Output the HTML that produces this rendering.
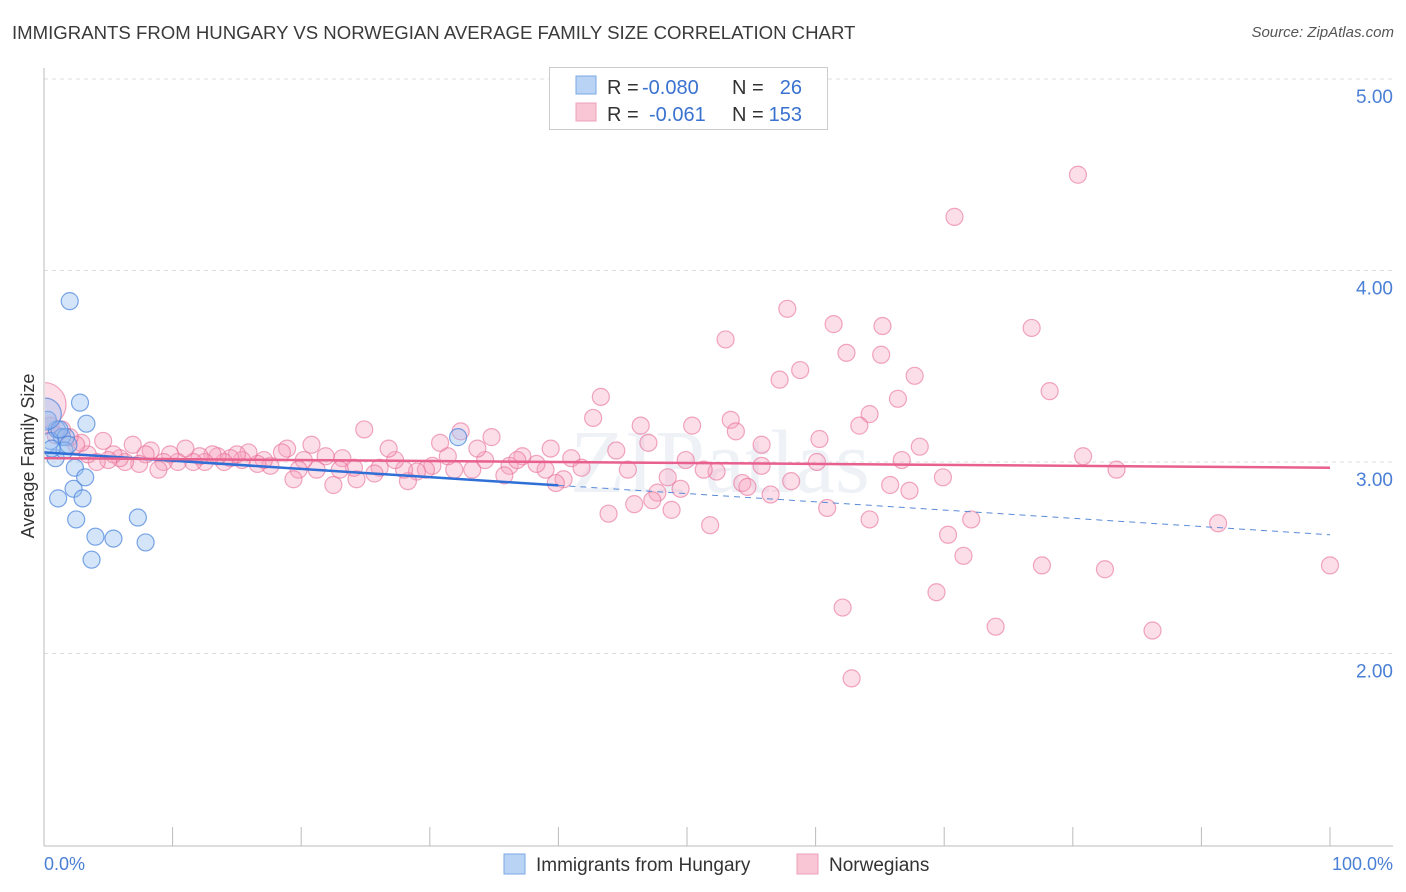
<!DOCTYPE html>
<html><head><meta charset="utf-8"><style>
body{margin:0;background:#fff;font-family:"Liberation Sans",sans-serif;}
#wrap{position:relative;width:1406px;height:892px;overflow:hidden;}
.t{position:absolute;white-space:nowrap;}
</style></head><body>
<div id="wrap">
<div class="t" style="left:12px;top:22px;font-size:18.6px;color:#3a3a3a;">IMMIGRANTS FROM HUNGARY VS NORWEGIAN AVERAGE FAMILY SIZE CORRELATION CHART</div>
<div class="t" style="right:12px;top:24px;font-size:15px;color:#555;font-style:italic;">Source: ZipAtlas.com</div>
<svg id="svg" width="1406" height="892" style="position:absolute;left:0;top:0;"><defs><clipPath id="pc"><rect x="45" y="60" width="1360" height="786"/></clipPath></defs></svg>
</div>
<script>
const yTicks=[2,3,4,5];
const yTickLabels=["2.00","3.00","4.00","5.00"];
const xTickLabels=["0.0%","100.0%"];
const blueX=[2.0,2.8,3.3,1.0,1.4,1.7,0.9,1.6,2.4,2.3,3.2,1.1,3.0,2.5,4.0,5.4,7.3,7.9,3.7,32.2,0.3,0.5,1.2,1.9,0.6,0.1];
const blueY=[3.84,3.31,3.20,3.17,3.13,3.13,3.02,3.06,2.97,2.86,2.92,2.81,2.81,2.70,2.61,2.60,2.71,2.58,2.49,3.13,3.22,3.11,3.17,3.09,3.07,3.25];
const pinkX=[80.4,70.8,57.8,61.4,65.2,76.8,53.0,62.4,65.1,58.8,57.2,67.7,78.2,43.3,66.4,64.2,42.7,53.4,46.4,50.4,63.4,53.8,32.4,24.9,34.8,60.3,47.0,55.8,68.1,80.8,83.4,60.1,66.7,69.9,65.8,67.3,55.8,58.1,54.3,54.7,56.5,52.3,51.3,49.9,48.5,49.5,47.7,47.3,45.9,43.9,48.8,51.8,60.9,64.2,72.1,70.3,71.5,91.3,77.6,82.5,100,69.4,62.1,74.0,86.2,62.8,45.4,44.5,
39.4,41.0,41.8,40.4,39.8,39.0,38.3,37.2,36.2,36.8,35.8,34.3,33.7,33.3,31.9,31.4,30.8,30.2,29.7,29.0,28.3,28.0,27.3,26.8,26.1,25.7,24.3,24.1,23.2,23.0,22.5,21.9,21.2,20.8,20.2,19.8,19.4,18.9,18.5,17.6,17.1,16.6,15.9,15.4,15.0,14.5,14.0,13.5,13.1,12.5,12.1,11.6,11.0,10.4,9.8,9.3,8.9,8.3,7.9,7.4,6.9,6.3,5.9,5.4,5.0,4.6,4.1,3.4,2.9,2.5,2.0,1.4,0.9,0.5,0];
const pinkY=[4.50,4.28,3.80,3.72,3.71,3.70,3.64,3.57,3.56,3.48,3.43,3.45,3.37,3.34,3.33,3.25,3.23,3.22,3.19,3.19,3.19,3.16,3.16,3.17,3.13,3.12,3.10,3.09,3.08,3.03,2.96,3.00,3.01,2.92,2.88,2.85,2.98,2.90,2.89,2.87,2.83,2.95,2.96,3.01,2.92,2.86,2.84,2.80,2.78,2.73,2.75,2.67,2.76,2.70,2.70,2.62,2.51,2.68,2.46,2.44,2.46,2.32,2.24,2.14,2.12,1.87,2.96,3.06,
3.07,3.02,2.97,2.91,2.89,2.96,2.99,3.03,2.98,3.01,2.93,3.01,3.07,2.96,2.96,3.03,3.10,2.98,2.96,2.95,2.90,2.96,3.01,3.07,2.97,2.94,2.91,2.97,3.02,2.96,2.88,3.03,2.96,3.09,3.01,2.96,2.91,3.07,3.05,2.98,3.01,2.99,3.05,3.01,3.04,3.02,3.00,3.03,3.04,3.00,3.03,3.00,3.07,3.00,3.04,3.00,2.96,3.06,3.04,2.99,3.09,3.00,3.02,3.04,3.01,3.11,3.00,3.04,3.10,3.09,3.13,3.17,3.14,3.19,3.30];
const blueTrend=[3.05,2.62];   // values at 0% and 100%
const blueSolidEnd=40;
const pinkTrend=[3.02,2.97];

const svg=document.getElementById('svg');
const NS='http://www.w3.org/2000/svg';
const X0=44,X1=1330,Y3=462,PU=191.5;
const xs=v=>X0+(X1-X0)*v/100;
const ys=v=>Y3-(v-3)*PU;
function mk(tag,a,parent){const e=document.createElementNS(NS,tag);for(const k in a)e.setAttribute(k,a[k]);(parent||svg).appendChild(e);return e;}

yTicks.forEach((t,i)=>{
  const g=mk('line',{x1:X0,x2:1393,y1:ys(t),y2:ys(t),stroke:'#ddd','stroke-dasharray':'4,4'});
  
  
  const tx=mk('text',{x:1393,y:ys(t)+24,'text-anchor':'end','font-size':19,fill:'#4a7fd6','font-family':'Liberation Sans, sans-serif'});
  tx.textContent=yTickLabels[i];
  
  
});
const wm=mk('text',{x:720,y:492,'text-anchor':'middle','font-size':90,fill:'#eef2f7','font-family':'Liberation Serif, serif'});
wm.textContent='ZIPatlas';


const plot=mk('g',{'clip-path':'url(#pc)'});



pinkX.forEach((x,i)=>{
  const c=mk('circle',{cx:xs(x),cy:ys(pinkY[i]),r:x===0?22:8.5,fill:'rgba(246,160,190,0.35)',stroke:'rgba(232,110,150,0.6)','stroke-width':1.2},plot);
  
  
});
blueX.forEach((x,i)=>{
  const c=mk('circle',{cx:xs(x),cy:ys(blueY[i]),r:x<0.2?16:8.5,fill:'rgba(150,190,240,0.4)',stroke:'rgba(70,130,220,0.7)','stroke-width':1.2},plot);
  
  
});
const bAt=p=>blueTrend[0]+(blueTrend[1]-blueTrend[0])*p/100;
const bl=mk('line',{x1:xs(0),y1:ys(bAt(0)),x2:xs(blueSolidEnd),y2:ys(bAt(blueSolidEnd)),stroke:'#2f6fd6','stroke-width':2.5});


const bd=mk('line',{x1:xs(blueSolidEnd),y1:ys(bAt(blueSolidEnd)),x2:xs(100),y2:ys(bAt(100)),stroke:'#5a8ad8','stroke-width':1,'stroke-dasharray':'6,5'});


const pl=mk('line',{x1:xs(0),y1:ys(pinkTrend[0]),x2:xs(100),y2:ys(pinkTrend[1]),stroke:'#e8608e','stroke-width':2.5});



const ax=mk('line',{x1:X0,x2:X0,y1:68,y2:846,stroke:'#bbb'});


const bx=mk('line',{x1:X0,x2:1393,y1:846,y2:846,stroke:'#bbb'});


for(let i=0;i<=10;i++){
  const tk=mk('line',{x1:xs(i*10),x2:xs(i*10),y1:827,y2:846,stroke:'#bbb'});
  
  
}
[[0,'start',44],[100,'end',1393]].forEach((d,i)=>{
  const tx=mk('text',{x:d[2],y:870,'text-anchor':d[1],'font-size':18,fill:'#4a7fd6','font-family':'Liberation Sans, sans-serif'});
  tx.textContent=xTickLabels[i];
  
  
});
const yl=mk('text',{x:0,y:0,transform:'translate(34,456) rotate(-90)','text-anchor':'middle','font-size':18,fill:'#333','font-family':'Liberation Sans, sans-serif'});
yl.textContent='Average Family Size';



// top legend
const lg=mk('g',{});


mk('rect',{x:549.5,y:67.5,width:278,height:62,fill:'#fff',stroke:'#ccc'},lg);
mk('rect',{x:576,y:76,width:20,height:18,fill:'#b8d3f4',stroke:'#7aa8e6'},lg);
mk('rect',{x:576,y:103,width:20,height:18,fill:'#f9c6d6',stroke:'#eda0b8'},lg);
const rows=[["R =","-0.080","N =","26",94],["R =","-0.061","N =","153",121]];
rows.forEach((r,i)=>{
  const f={'font-size':20,'font-family':'Liberation Sans, sans-serif'};
  const a=mk('text',Object.assign({x:607,y:r[4],fill:'#333'},f),lg);a.textContent=r[0];
  const b=mk('text',Object.assign({x:i?649:642,y:r[4],fill:'#3a72d0'},f),lg);b.textContent=r[1];
  const c=mk('text',Object.assign({x:732,y:r[4],fill:'#333'},f),lg);c.textContent=r[2];
  const d=mk('text',Object.assign({x:802,y:r[4],fill:'#3a72d0','text-anchor':'end'},f),lg);d.textContent=r[3];
});
// bottom legend
const bl2=mk('g',{});


mk('rect',{x:504,y:854,width:21,height:20,fill:'#b8d3f4',stroke:'#7aa8e6'},bl2);
const l1=mk('text',{x:536,y:871,'font-size':19,fill:'#333','font-family':'Liberation Sans, sans-serif'},bl2);l1.textContent='Immigrants from Hungary';
mk('rect',{x:797,y:854,width:21,height:20,fill:'#f9c6d6',stroke:'#eda0b8'},bl2);
const l2=mk('text',{x:829,y:871,'font-size':19,fill:'#333','font-family':'Liberation Sans, sans-serif'},bl2);l2.textContent='Norwegians';
</script>
</body></html>
